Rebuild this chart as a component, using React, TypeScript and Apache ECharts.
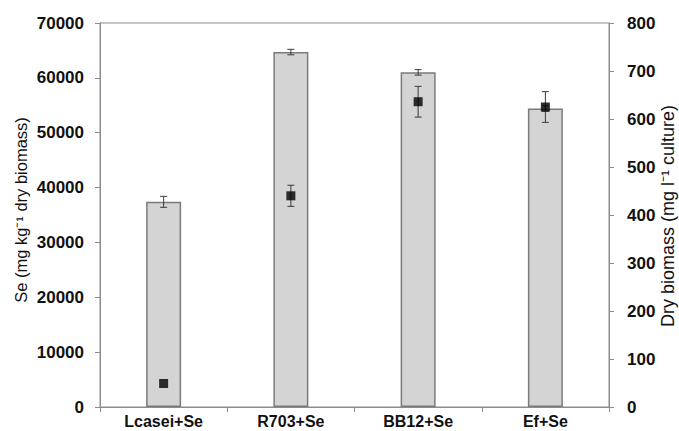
import React, { useEffect, useRef } from "react";
import * as echarts from "echarts";

const categories = ["Lcasei+Se", "R703+Se", "BB12+Se", "Ef+Se"];
const seValues = [37400, 64700, 61000, 54400];
const seErrors = [1000, 500, 500, 500];
const biomassValues = [49, 440, 636, 625];
const biomassErrors = [0, 22, 32, 32];
const leftTicks = { min: 0, max: 70000, interval: 10000 };
const rightTicks = { min: 0, max: 800, interval: 100 };
const leftTitle = "Se (mg kg⁻¹ dry biomass)";
const rightTitle = "Dry biomass (mg l⁻¹ culture)";

const FONT = "'Liberation Sans', Arial, sans-serif";
const AXIS_COLOR = "#8c8c8c";

function errorRender(params: any, api: any) {
  const idx = api.value(0);
  const lo = api.coord([idx, api.value(1)]);
  const hi = api.coord([idx, api.value(2)]);
  const x = lo[0];
  const cap = 3.5;
  const style = { stroke: "#3a3a3a", lineWidth: 1 };
  return {
    type: "group",
    children: [
      { type: "line", shape: { x1: x, y1: lo[1], x2: x, y2: hi[1] }, style },
      { type: "line", shape: { x1: x - cap, y1: lo[1], x2: x + cap, y2: lo[1] }, style },
      { type: "line", shape: { x1: x - cap, y1: hi[1], x2: x + cap, y2: hi[1] }, style },
    ],
  };
}

export default function App() {
  const ref = useRef<HTMLDivElement>(null);
  useEffect(() => {
    if (!ref.current) return;
    const chart = echarts.init(ref.current, undefined, { renderer: "svg" });
    const seErr = seValues.map((v, i) => [i, v - seErrors[i], v + seErrors[i]]);
    const bmErr = biomassValues
      .map((v, i) => [i, v - biomassErrors[i], v + biomassErrors[i]])
      .filter((d, i) => biomassErrors[i] > 0);
    const tickLabel = {
      color: "#111111",
      fontWeight: "bold",
      fontSize: 17,
      fontFamily: FONT,
      formatter: (v: number) => String(v),
    };
    const titleStyle = {
      fill: "#111111",
      fontFamily: FONT,
      textAlign: "center",
      textVerticalAlign: "middle",
    };
    chart.setOption({
      animation: false,
      backgroundColor: "#ffffff",
      grid: {
        left: 100,
        right: 70,
        top: 23,
        bottom: 24,
        show: true,
        borderColor: AXIS_COLOR,
        borderWidth: 1,
      },
      graphic: [
        {
          type: "text",
          x: 21,
          y: 210,
          rotation: Math.PI / 2,
          style: { ...titleStyle, fontSize: 16.5, text: leftTitle },
        },
        {
          type: "text",
          x: 668,
          y: 216,
          rotation: Math.PI / 2,
          style: { ...titleStyle, fontSize: 18, text: rightTitle },
        },
      ],
      xAxis: {
        type: "category",
        data: categories,
        axisLine: { lineStyle: { color: AXIS_COLOR, width: 1 } },
        axisTick: { show: true, alignWithLabel: false, length: 5, lineStyle: { color: AXIS_COLOR } },
        axisLabel: {
          color: "#111111",
          fontWeight: "bold",
          fontSize: 16,
          fontFamily: FONT,
          margin: 6,
        },
      },
      yAxis: [
        {
          type: "value",
          min: leftTicks.min,
          max: leftTicks.max,
          interval: leftTicks.interval,
          position: "left",
          axisLine: { show: true, lineStyle: { color: AXIS_COLOR } },
          axisTick: { show: true, length: 5, lineStyle: { color: AXIS_COLOR } },
          splitLine: { show: false },
          axisLabel: { ...tickLabel, margin: 16 },
        },
        {
          type: "value",
          min: rightTicks.min,
          max: rightTicks.max,
          interval: rightTicks.interval,
          position: "right",
          axisLine: { show: true, lineStyle: { color: AXIS_COLOR } },
          axisTick: { show: true, length: 5, lineStyle: { color: AXIS_COLOR } },
          splitLine: { show: false },
          axisLabel: { ...tickLabel, margin: 18 },
        },
      ],
      series: [
        {
          type: "bar",
          yAxisIndex: 0,
          data: seValues,
          barWidth: 35,
          itemStyle: { color: "#d4d4d4", borderColor: "#7a7a7a", borderWidth: 1.5 },
          z: 2,
        },
        {
          type: "custom",
          yAxisIndex: 0,
          data: seErr,
          renderItem: errorRender,
          z: 3,
        },
        {
          type: "custom",
          yAxisIndex: 1,
          data: bmErr,
          renderItem: errorRender,
          z: 4,
        },
        {
          type: "scatter",
          yAxisIndex: 1,
          data: biomassValues.map((v, i) => [i, v]),
          symbol: "rect",
          symbolSize: 9,
          itemStyle: { color: "#000000" },
          z: 5,
        },
      ],
    });
    return () => chart.dispose();
  }, []);
  return (
    <div
      ref={ref}
      style={{ position: "absolute", left: 0, top: 0, width: 679, height: 431 }}
    />
  );
}
